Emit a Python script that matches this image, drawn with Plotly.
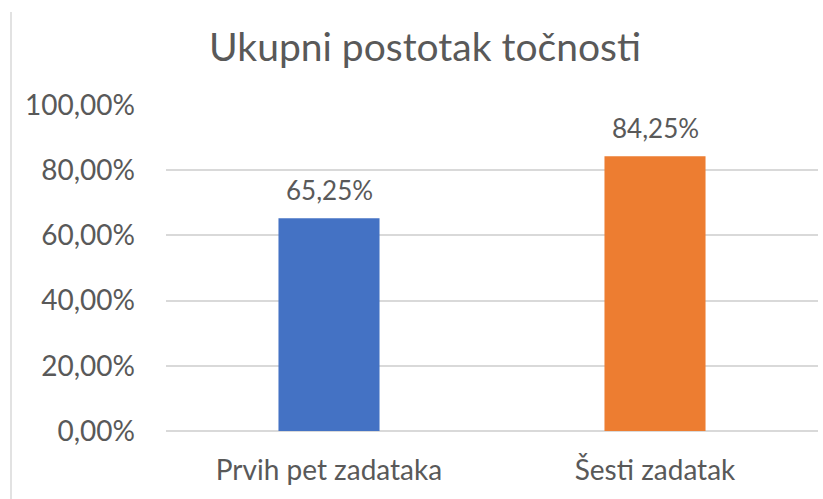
import plotly.graph_objects as go

categories = ["Prvih pet zadataka", "Šesti zadatak"]
values = [0.6525, 0.8425]
bar_colors = ["#4472C4", "#ED7D31"]
value_labels = ["65,25%", "84,25%"]
tick_vals = [0, 0.2, 0.4, 0.6, 0.8, 1.0]
tick_text = ["0,00%", "20,00%", "40,00%", "60,00%", "80,00%", "100,00%"]
title_text = "Ukupni postotak točnosti"

FONT = "Lato"
GRAY = "#595959"

fig = go.Figure()
fig.add_trace(go.Bar(
    x=categories, y=values, marker=dict(color=bar_colors, line=dict(width=0)),
    hoverinfo="skip",
))

for c, v, t in zip(categories, values, value_labels):
    fig.add_annotation(x=c, y=v, text=t, showarrow=False, yanchor="bottom",
                       yshift=10, font=dict(family=FONT, size=26, color=GRAY))

L, R, T, B = 166, 5, 105, 68
W, H = 823, 499
pw = W - L - R
ph = H - T - B

fig.update_layout(
    width=W, height=H,
    margin=dict(l=L, r=R, t=T, b=B, pad=0),
    paper_bgcolor="white", plot_bgcolor="white",
    bargap=0.69,
    showlegend=False,
    title=dict(text=title_text, x=425 / W, xanchor="center", y=1 - 47 / H,
               yanchor="middle", yref="container", xref="container",
               font=dict(family=FONT, size=39, color=GRAY)),
    font=dict(family=FONT, color=GRAY),
    xaxis=dict(showgrid=False, showline=False, zeroline=False, ticks="",
               tickfont=dict(family=FONT, size=28, color=GRAY),
               ticklabelstandoff=20),
    yaxis=dict(range=[0, 1.0], tickvals=tick_vals, ticktext=tick_text,
               showgrid=True, gridcolor="#D9D9D9", gridwidth=1.5,
               zeroline=True, zerolinecolor="#D9D9D9", zerolinewidth=1.5,
               showline=False, ticks="",
               tickfont=dict(family=FONT, size=28, color=GRAY),
               ticklabelstandoff=30),
    shapes=[dict(type="line", xref="paper", yref="paper",
                 x0=(11 - L) / pw, x1=(11 - L) / pw,
                 y0=-B / ph, y1=1 + (T - 12) / ph,
                 line=dict(color="#D9D9D9", width=1.5))],
)

fig.write_html("out.html", config={"displayModeBar": False},
               post_script="document.body.style.margin='0';document.body.style.padding='0';")
